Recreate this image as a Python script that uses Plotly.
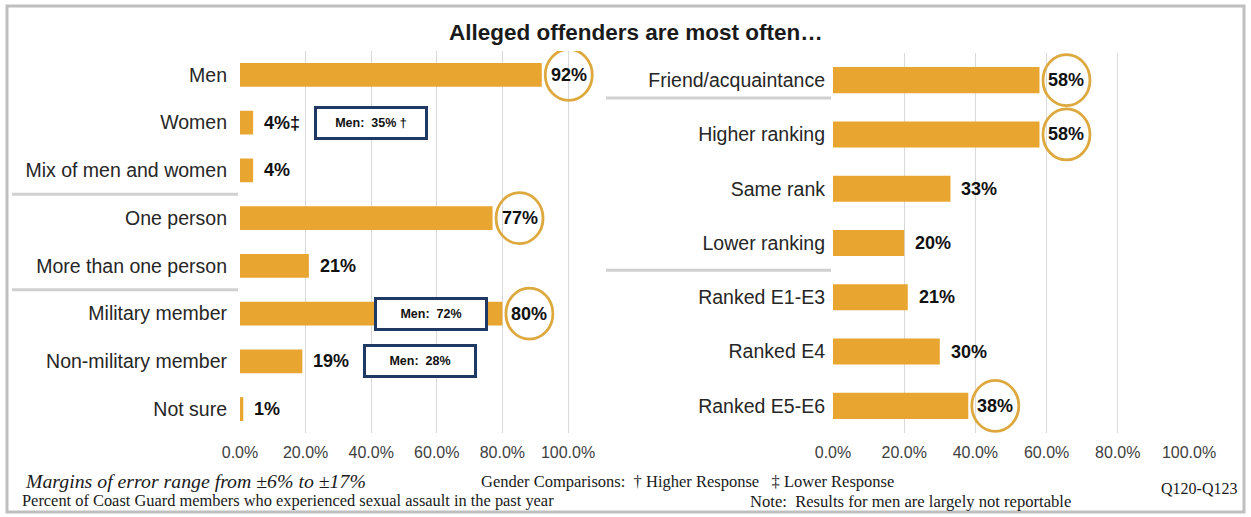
import plotly.graph_objects as go

# ---------------- data ----------------
left_categories = ["Men", "Women", "Mix of men and women", "One person",
                   "More than one person", "Military member",
                   "Non-military member", "Not sure"]
left_values = [92, 4, 4, 77, 21, 80, 19, 1]
left_labels = ["92%", "4%\u2021", "4%", "77%", "21%", "80%", "19%", "1%"]
left_circled = [True, False, False, True, False, True, False, False]

right_categories = ["Friend/acquaintance", "Higher ranking", "Same rank",
                    "Lower ranking", "Ranked E1-E3", "Ranked E4", "Ranked E5-E6"]
right_values = [58, 58, 33, 20, 21, 30, 38]
right_labels = ["58%", "58%", "33%", "20%", "21%", "30%", "38%"]
right_circled = [True, True, False, False, False, False, True]

men_comparisons = [("Women", "Men:  35% \u2020"),
                   ("Military member", "Men:  72%"),
                   ("Non-military member", "Men:  28%")]

x_ticks = [0, 20, 40, 60, 80, 100]
x_tick_text = ["0.0%", "20.0%", "40.0%", "60.0%", "80.0%", "100.0%"]

title_text = "Alleged offenders are most often\u2026"

# ---------------- layout helpers ----------------
W, H = 1251, 517
def px(x):
    return x / W
def py(y):
    return 1 - y / H

BAR = "#E8A530"
CIRCLE = "#DDA83E"
NAVY = "#1F3864"
GRID = "#D9D9D9"
SANS = "Liberation Sans, Arial, sans-serif"
SERIF = "Liberation Serif, Times New Roman, serif"

left_pos = list(range(len(left_categories)))
right_pos = list(range(len(right_categories)))

# left panel: 3.28 px per percent, extended beyond 100% so the circle is not clipped
L_X0, L_SCALE, L_MAX = 240, 3.28, 110
R_X0, R_SCALE, R_MAX = 833, 3.56, 100

fig = go.Figure()
fig.add_trace(go.Bar(x=left_values, y=left_pos, orientation="h",
                     marker=dict(color=BAR, line=dict(width=0)), width=0.5,
                     xaxis="x", yaxis="y", hoverinfo="skip", showlegend=False))
fig.add_trace(go.Bar(x=right_values, y=right_pos, orientation="h",
                     marker=dict(color=BAR, line=dict(width=0)), width=0.48,
                     xaxis="x2", yaxis="y2", hoverinfo="skip", showlegend=False))

axis_common = dict(tickmode="array", tickvals=x_ticks, ticktext=x_tick_text,
                   showgrid=True, gridcolor=GRID, gridwidth=1, zeroline=False,
                   showline=False, ticks="", ticklabelstandoff=8, automargin=False,
                   tickfont=dict(family=SANS, size=16, color="#404040"), fixedrange=True)

fig.update_layout(
    width=W, height=H, autosize=False,
    margin=dict(l=0, r=0, t=0, b=0, pad=0),
    paper_bgcolor="white", plot_bgcolor="white",
    bargap=0.5,
    xaxis=dict(domain=[px(L_X0), px(L_X0 + L_SCALE * L_MAX)], range=[0, L_MAX],
               anchor="y", **axis_common),
    xaxis2=dict(domain=[px(R_X0), px(R_X0 + R_SCALE * R_MAX)], range=[0, R_MAX],
                anchor="y2", **axis_common),
    yaxis=dict(domain=[py(433), py(51)], anchor="x",
               range=[len(left_categories) - 0.5, -0.5],
               tickmode="array", tickvals=left_pos, ticktext=left_categories,
               showgrid=False, zeroline=False, showline=False, ticks="",
               ticklabelstandoff=12, automargin=False, fixedrange=True,
               tickfont=dict(family=SANS, size=19.5, color="#262626")),
    yaxis2=dict(domain=[py(433), py(53)], anchor="x2",
                range=[len(right_categories) - 0.5, -0.5],
                tickmode="array", tickvals=right_pos, ticktext=right_categories,
                showgrid=False, zeroline=False, showline=False, ticks="",
                ticklabelstandoff=7, automargin=False, fixedrange=True,
                tickfont=dict(family=SANS, size=19.5, color="#262626")),
)

annotations = []
shapes = []

CIRC_OFF = 27
CIRC_W, CIRC_H = 47, 51

def add_values(values, labels, circled, positions, xref, yref):
    for v, lab, c, p in zip(values, labels, circled, positions):
        if c:
            shapes.append(dict(type="circle", xref=xref, yref=yref,
                               xsizemode="pixel", ysizemode="pixel",
                               xanchor=v, yanchor=p,
                               x0=CIRC_OFF - CIRC_W / 2, x1=CIRC_OFF + CIRC_W / 2,
                               y0=-CIRC_H / 2, y1=CIRC_H / 2,
                               line=dict(color=CIRCLE, width=2.8),
                               fillcolor="rgba(0,0,0,0)", layer="above"))
            annotations.append(dict(x=v, y=p, xref=xref, yref=yref, text="<b>%s</b>" % lab,
                                    showarrow=False, xanchor="center", xshift=CIRC_OFF,
                                    font=dict(family=SANS, size=18, color="#111111")))
        else:
            annotations.append(dict(x=v, y=p, xref=xref, yref=yref, text="<b>%s</b>" % lab,
                                    showarrow=False, xanchor="left", xshift=9,
                                    font=dict(family=SANS, size=18, color="#111111")))

add_values(left_values, left_labels, left_circled, left_pos, "x", "y")
add_values(right_values, right_labels, right_circled, right_pos, "x2", "y2")

# comparison boxes (positions in pixels)
box_centers = {"Women": 370.5, "Military member": 430.5, "Non-military member": 419.5}
for cat, txt in men_comparisons:
    annotations.append(dict(x=px(box_centers[cat]), xref="paper",
                            y=left_categories.index(cat), yref="y",
                            text="<b>%s</b>" % txt, showarrow=False, xanchor="center",
                            width=108, height=28, borderpad=0, borderwidth=3,
                            bordercolor=NAVY, bgcolor="white",
                            font=dict(family=SANS, size=12.5, color="#111111")))

# separator lines
for yv in [2.5, 4.5]:
    shapes.append(dict(type="line", xref="paper", yref="y", x0=px(12), x1=px(238),
                       y0=yv, y1=yv, line=dict(color="#D0D0D0", width=3)))
for yv in [0.33, 3.5]:
    shapes.append(dict(type="line", xref="paper", yref="y2", x0=px(606), x1=px(831),
                       y0=yv, y1=yv, line=dict(color="#D0D0D0", width=3)))

# border
shapes.append(dict(type="rect", xref="paper", yref="paper", x0=px(7), x1=px(1244),
                   y0=py(512), y1=py(6), line=dict(color="#BFBFBF", width=3),
                   fillcolor="rgba(0,0,0,0)"))

# title
annotations.append(dict(x=px(636), y=py(32), xref="paper", yref="paper",
                        text="<b>%s</b>" % title_text, showarrow=False,
                        xanchor="center", yanchor="middle",
                        font=dict(family=SANS, size=22.5, color="#1a1a1a")))

# footer texts
footers = [
    ("<i>Margins of error range from \u00b16% to \u00b117%</i>", 23, 481, "left", 19.8),
    ("Percent of Coast Guard members who experienced sexual assault in the past year", 20, 500, "left", 16.4),
    ("Gender Comparisons:  \u2020 Higher Response   \u2021 Lower Response", 479, 481, "left", 16.5),
    ("Note:  Results for men are largely not reportable", 748, 501, "left", 16.6),
    ("Q120-Q123", 1239, 488, "right", 16),
]
for txt, x, y, anc, size in footers:
    annotations.append(dict(x=px(x), y=py(y), xref="paper", yref="paper", text=txt,
                            showarrow=False, xanchor=anc, yanchor="middle",
                            font=dict(family=SERIF, size=size, color="#1a1a1a")))

fig.update_layout(annotations=annotations, shapes=shapes)

fig.write_html(
    "out.html",
    config={"responsive": False, "displayModeBar": False},
    post_script=("document.body.style.margin='0';"
                 "document.body.style.overflow='hidden';"
                 "document.documentElement.style.overflow='hidden';"),
)
